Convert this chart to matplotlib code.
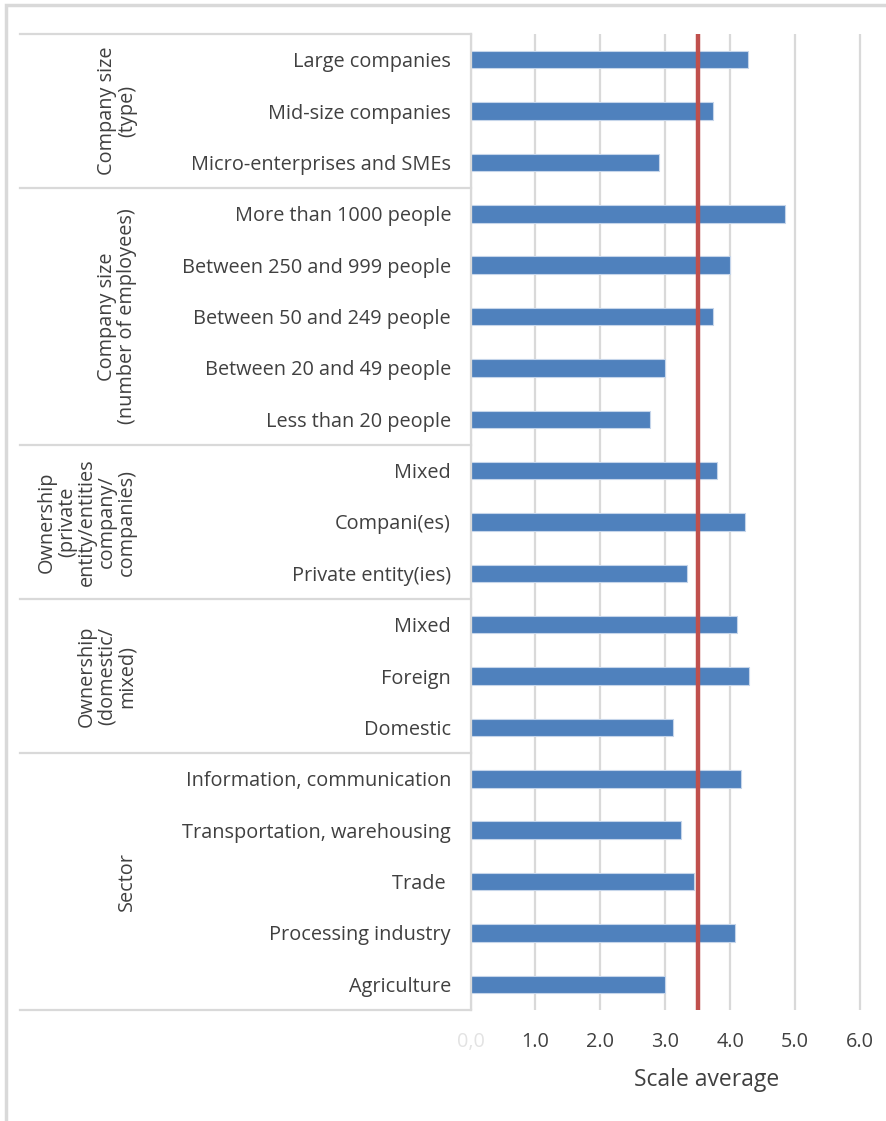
import matplotlib
matplotlib.use("Agg")
import matplotlib.pyplot as plt
import matplotlib.transforms as mtransforms
from matplotlib.patches import Rectangle

plt.rcParams["font.family"] = ["Open Sans", "DejaVu Sans"]

# Category labels (top to bottom) and their scale averages
categories = [
    "Large companies", "Mid-size companies", "Micro-enterprises and SMEs",
    "More than 1000 people", "Between 250 and 999 people", "Between 50 and 249 people",
    "Between 20 and 49 people", "Less than 20 people",
    "Mixed", "Compani(es)", "Private entity(ies)",
    "Mixed", "Foreign", "Domestic",
    "Information, communication", "Transportation, warehousing", "Trade ",
    "Processing industry", "Agriculture",
]
values = [
    4.28, 3.73, 2.90,
    4.85, 3.99, 3.73, 2.99, 2.77,
    3.80, 4.23, 3.33,
    4.10, 4.29, 3.12,
    4.16, 3.25, 3.44, 4.08, 2.99,
]
groups = [
    "Company size\n(type)",
    "Company size\n(number of employees)",
    "Ownership\n(private\nentity/entities\ncompany/\ncompanies)",
    "Ownership\n(domestic/\nmixed)",
    "Sector",
]
group_sizes = [3, 5, 3, 3, 5]
overall_average = 3.51
x_ticks = [0, 1, 2, 3, 4, 5, 6]
x_tick_labels = ["0,0", "1.0", "2.0", "3.0", "4.0", "5.0", "6.0"]

W, H = 886, 1121
fig = plt.figure(figsize=(W / 100, H / 100), dpi=100)

text_col = "#404040"
grid_col = "#D9D9D9"
bar_col = "#4F81BD"
line_col = "#C0504D"
label_size = 14.3

# outer chart frame (left and top edges visible)
fig.patches.append(Rectangle((6 / W, -0.1), 1.2, 1 - 5 / H + 0.1, transform=fig.transFigure,
                             fill=False, edgecolor=grid_col, linewidth=2.5, zorder=0))

x0_px, x1_px = 470.5, 860.0
xmax = 6.2
px_per_unit = (x1_px - x0_px) / 6
ax_w = xmax * px_per_unit
top_px, bot_px = 34.0, 1010.0
ax = fig.add_axes([x0_px / W, 1 - bot_px / H, ax_w / W, (bot_px - top_px) / H])

n = len(categories)
ypos = list(range(n))
ax.barh(ypos, values, height=0.34, color=bar_col, edgecolor="#C5D5EA",
        linewidth=0.8, zorder=2)
ax.axvline(overall_average, color=line_col, linewidth=3.2, zorder=3)

ax.set_xlim(0, xmax)
ax.set_ylim(n - 0.5, -0.5)
ax.set_xticks(x_ticks)
ax.set_xticklabels(x_tick_labels)
ax.xaxis.grid(True, color=grid_col, linewidth=1.6, zorder=0)
ax.set_axisbelow(True)
ax.tick_params(axis="x", length=0, pad=16, labelsize=label_size, labelcolor=text_col)
ax.get_xticklabels()[0].set_color("#E3E3E3")
ax.set_yticks(ypos)
ax.set_yticklabels(categories)
ax.tick_params(axis="y", length=0, pad=14, labelsize=label_size, labelcolor=text_col)
for side in ["top", "right", "bottom"]:
    ax.spines[side].set_visible(False)
ax.spines["left"].set_color(grid_col)
ax.spines["left"].set_linewidth(1.6)

# group separators and group labels
trans = mtransforms.blended_transform_factory(fig.transFigure, ax.transData)
boundaries = [-0.5]
for s in group_sizes:
    boundaries.append(boundaries[-1] + s)
for b in boundaries:
    ax.plot([20 / W, x0_px / W], [b, b], transform=trans, color=grid_col,
            linewidth=1.6, clip_on=False, zorder=1)
for g, lo, hi in zip(groups, boundaries[:-1], boundaries[1:]):
    ax.text(137 / W, (lo + hi) / 2, g, transform=trans, rotation=90,
            ha="right", va="center", multialignment="center",
            fontsize=label_size, color=text_col, linespacing=1.0)

fig.text(707 / W, 1 - 1080 / H, "Scale average", ha="center", va="center",
         fontsize=16.5, color=text_col)

fig.savefig("out.png", dpi=100)
